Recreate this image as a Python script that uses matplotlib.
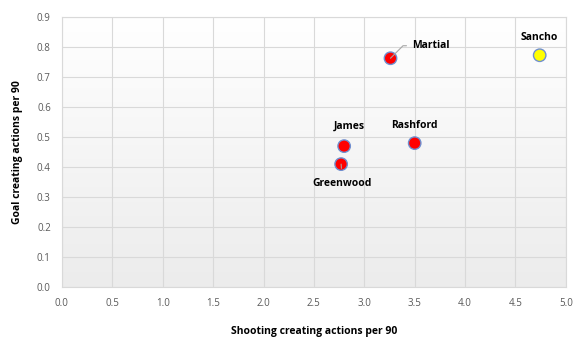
import numpy as np
import matplotlib.pyplot as plt

# player data
players = ['Martial', 'Sancho', 'James', 'Greenwood', 'Rashford']
shooting = [3.26, 4.74, 2.80, 2.77, 3.50]
goal = [0.763, 0.773, 0.47, 0.41, 0.48]
colours = ['#ff0000', '#ffff00', '#ff0000', '#ff0000', '#ff0000']

plt.rcParams['font.family'] = ['Open Sans', 'DejaVu Sans']

fig = plt.figure(figsize=(5.84, 3.43), dpi=100)
ax = fig.add_axes([0.106, 0.163, 0.863, 0.787])

# soft grey gradient behind the plot (white at top, grey at bottom)
grad = np.linspace(0.0, 1.0, 256).reshape(-1, 1)
ax.imshow(grad, extent=[0, 1, 0, 1], transform=ax.transAxes, aspect='auto',
          cmap=plt.matplotlib.colors.LinearSegmentedColormap.from_list('g', ['#ffffff', '#ececec']),
          vmin=0, vmax=1, zorder=0)

ax.scatter(shooting, goal, s=80, c=colours, edgecolors='#6f8fd0', linewidths=1.0, zorder=3)

# label offsets in points
offsets = {
    'Martial': (29, 9),
    'Sancho': (0, 13),
    'James': (4, 14),
    'Greenwood': (1, -14),
    'Rashford': (0, 13),
}
for name, x, y in zip(players, shooting, goal):
    dx, dy = offsets[name]
    if name == 'Martial':
        ax.annotate(name, (x, y), xytext=(dx, dy), textcoords='offset points',
                    ha='center', va='center', fontsize=7.5, fontweight='bold',
                    arrowprops=dict(arrowstyle='-', color='#a6a6a6', lw=0.8,
                                    shrinkA=2, shrinkB=0,
                                    connectionstyle='angle,angleA=0,angleB=45,rad=0',
                                    relpos=(0, 0.5)), zorder=4)
    elif name == 'Greenwood':
        ax.annotate(name, (x, y), xytext=(dx, dy), textcoords='offset points',
                    ha='center', va='center', fontsize=7.5, fontweight='bold',
                    arrowprops=dict(arrowstyle='-', color='#a6a6a6', lw=0.8,
                                    shrinkA=5, shrinkB=0), zorder=4)
    else:
        ax.annotate(name, (x, y), xytext=(dx, dy), textcoords='offset points',
                    ha='center', va='center', fontsize=7.5, fontweight='bold', zorder=4)

ax.set_xlim(0, 5)
ax.set_ylim(0, 0.9)
ax.set_xticks(np.arange(0, 5.01, 0.5))
ax.set_yticks(np.arange(0, 0.91, 0.1))
ax.set_xticklabels([f'{v:.1f}' for v in np.arange(0, 5.01, 0.5)])
ax.set_yticklabels([f'{v:.1f}' for v in np.arange(0, 0.91, 0.1)])
ax.tick_params(length=0, labelsize=7, colors='#595959', pad=8)
ax.grid(True, color='#d9d9d9', lw=0.8, zorder=1)
ax.set_axisbelow(True)
for s in ax.spines.values():
    s.set_color('#d9d9d9')

ax.set_xlabel('Shooting creating actions per 90', fontsize=7.5, fontweight='bold', labelpad=12)
ax.set_ylabel('Goal creating actions per 90', fontsize=7.5, fontweight='bold', labelpad=10)

fig.savefig('out.png', dpi=100)
